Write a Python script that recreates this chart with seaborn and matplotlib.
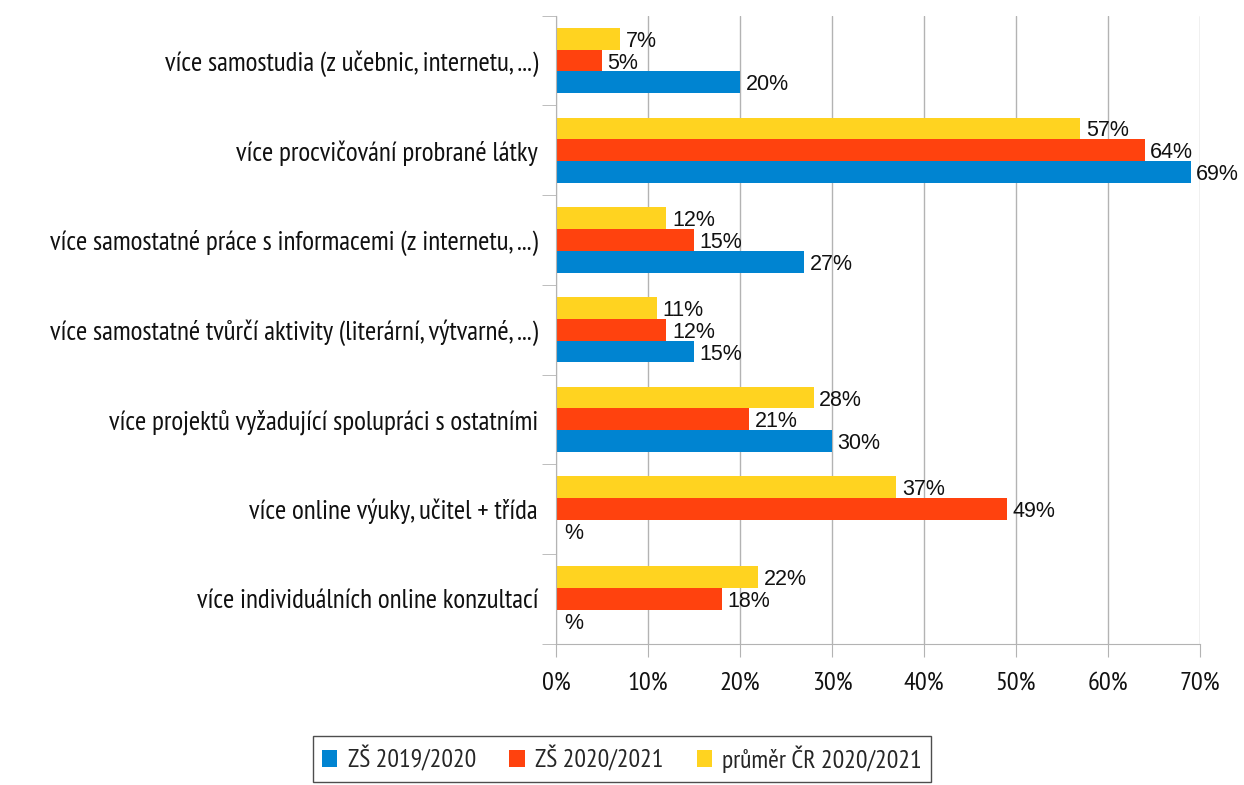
import matplotlib
matplotlib.use("Agg")
import matplotlib.pyplot as plt
import matplotlib.ticker as mticker
from matplotlib.patches import Patch
import seaborn as sns
import numpy as np
import pandas as pd

categories = [
    "více samostudia (z učebnic, internetu, ...)",
    "více procvičování probrané látky",
    "více samostatné práce s informacemi (z internetu, ...)",
    "více samostatné tvůrčí aktivity (literární, výtvarné, ...)",
    "více projektů vyžadující spolupráci s ostatními",
    "více online výuky, učitel + třída",
    "více individuálních online konzultací",
]
series_names = ["ZŠ 2019/2020", "ZŠ 2020/2021", "průměr ČR 2020/2021"]
zs_2019 = [20, 69, 27, 15, 30, np.nan, np.nan]
zs_2020 = [5, 64, 15, 12, 21, 49, 18]
prumer_cr = [7, 57, 12, 11, 28, 37, 22]
colors = {"ZŠ 2019/2020": "#0084d1", "ZŠ 2020/2021": "#ff420e", "průměr ČR 2020/2021": "#ffd320"}

rows = []
for name, vals in zip(series_names, [zs_2019, zs_2020, prumer_cr]):
    for cat, v in zip(categories, vals):
        rows.append({"kategorie": cat, "serie": name, "hodnota": v})
df = pd.DataFrame(rows)

sns.set_style("white")
label_font = ["PT Sans Narrow", "DejaVu Sans"]
value_font = ["Liberation Sans", "DejaVu Sans"]

fig = plt.figure(figsize=(12.44, 7.85), dpi=100)
ax = fig.add_axes([0.447, 0.18, 0.5176, 0.80])

# yellow on top, blue at the bottom inside each group
hue_order = series_names[::-1]
sns.barplot(data=df, y="kategorie", x="hodnota", hue="serie", hue_order=hue_order,
            order=categories, palette=colors, width=0.73, orient="h",
            saturation=1, linewidth=0, ax=ax, legend=False)

for cont in ax.containers:
    labels = ["" if np.isnan(b.get_width()) else f"{b.get_width():.0f}%" for b in cont]
    texts = ax.bar_label(cont, labels=labels, padding=4, fontsize=15.5,
                         family=value_font, color="#111111")
    for t in texts:
        t.set_va("center_baseline")

# missing values are shown only as "%"
offsets = {name: (i - 1) * 0.73 / 3 for i, name in enumerate(hue_order)}
for name, vals in zip(series_names, [zs_2019, zs_2020, prumer_cr]):
    for i, v in enumerate(vals):
        if np.isnan(v):
            ax.annotate("%", (0, i + offsets[name]), xytext=(6, 0), textcoords="offset points",
                        va="center_baseline", ha="left", fontsize=15.5,
                        family=value_font, color="#111111")

ax.set_xlim(0, 70)
ax.set_ylim(len(categories) - 0.5, -0.5)
ax.xaxis.set_major_locator(mticker.MultipleLocator(10))
ax.xaxis.set_major_formatter(mticker.FuncFormatter(lambda v, p: f"{v:.0f}%"))
ax.grid(axis="x", color="#b3b3b3", linewidth=1)
ax.set_axisbelow(True)
ax.set_xlabel("")
ax.set_ylabel("")

for side in ["top", "right"]:
    ax.spines[side].set_visible(False)
for side in ["left", "bottom"]:
    ax.spines[side].set_color("#b3b3b3")

ax.tick_params(axis="x", bottom=True, length=9, color="#b3b3b3", pad=11, labelsize=19)
ax.tick_params(axis="y", left=False, length=0, pad=13, labelsize=19.5)
ax.yaxis.set_minor_locator(mticker.FixedLocator(np.arange(-0.5, len(categories), 1)))
ax.tick_params(axis="y", which="minor", left=True, length=10, color="#b3b3b3")
for lbl in ax.get_xticklabels() + ax.get_yticklabels():
    lbl.set_family(label_font)
    lbl.set_color("#111111")

handles = [Patch(facecolor=colors[n], edgecolor="none", label=n) for n in series_names]
leg = fig.legend(handles=handles, loc="lower center", bbox_to_anchor=(0.5, -0.012), ncol=3,
                 frameon=True, fancybox=False, edgecolor="#222222",
                 handlelength=0.6, handleheight=0.6, handletextpad=0.4, columnspacing=1.3,
                 borderpad=0.35, prop={"family": label_font, "size": 18.5})
leg.get_frame().set_linewidth(1)

fig.savefig("out.png", dpi=100)
